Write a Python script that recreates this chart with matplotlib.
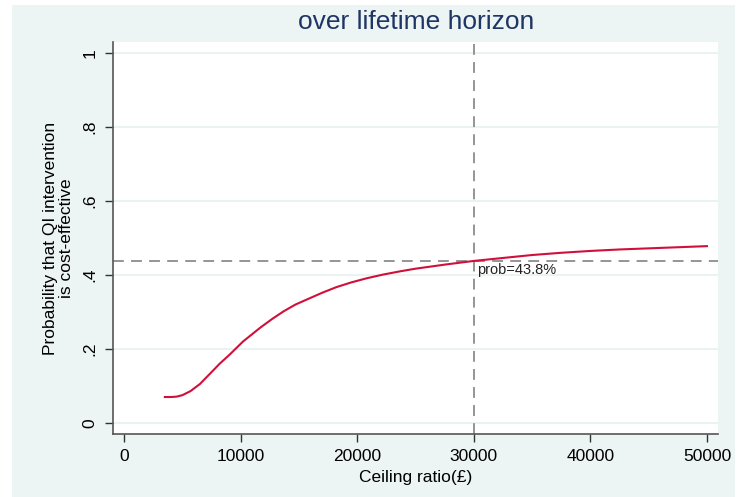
import matplotlib
matplotlib.use("Agg")
import matplotlib.pyplot as plt
from matplotlib.patches import Rectangle

plt.rcParams['font.family'] = ['Liberation Sans', 'DejaVu Sans']

# CEAC values
ceiling = [3500, 4000, 4500, 5000, 5700, 6500, 7400, 8200, 9100, 10200,
           11700, 12700, 13700, 14700, 15700, 17000, 18200, 19500, 20800,
           22200, 23700, 25000, 27500, 30000, 32500, 35000, 37500, 40000,
           42500, 45000, 47500, 50000]
prob = [0.070, 0.070, 0.071, 0.075, 0.086, 0.105, 0.134, 0.160, 0.186, 0.220,
        0.258, 0.281, 0.302, 0.320, 0.334, 0.352, 0.367, 0.380, 0.391,
        0.401, 0.410, 0.417, 0.428, 0.438, 0.446, 0.454, 0.460, 0.465,
        0.469, 0.472, 0.475, 0.478]
wtp = 30000
prob_at_wtp = 0.438
xticks = [0, 10000, 20000, 30000, 40000, 50000]
yticks = [0, 0.2, 0.4, 0.6, 0.8, 1.0]
ytick_labels = ['0', '.2', '.4', '.6', '.8', '1']

bg = '#edf4f4'
fig = plt.figure(figsize=(7.38, 4.97), dpi=100)
fig.patch.set_facecolor('white')
fig.patches.append(Rectangle((12 / 738, 0), 723 / 738, 492 / 497,
                             transform=fig.transFigure, facecolor=bg,
                             edgecolor='none', zorder=-10))

ax = fig.add_axes([113 / 738, 1 - 434 / 497, 605 / 738, 392 / 497])
ax.set_facecolor('white')

ax.plot(ceiling, prob, color='#d0103a', lw=1.5, zorder=3)
ax.axhline(prob_at_wtp, color='#8c8c8c', lw=1.3, ls=(0, (6, 4)), zorder=2)
ax.axvline(wtp, color='#8c8c8c', lw=1.3, ls=(0, (6, 4)), zorder=2)
ax.text(wtp + 250, prob_at_wtp - 0.005, 'prob=%.1f%%' % (prob_at_wtp * 100),
        fontsize=10.5, va='top', ha='left', color='#222222')

ax.set_xlim(-950, 50950)
ax.set_ylim(-0.03, 1.03)
ax.set_xticks(xticks)
ax.set_yticks(yticks)
ax.set_yticklabels(ytick_labels, rotation=90, va='center')
ax.grid(axis='y', color='#e8f0f0', lw=1.2)
ax.set_axisbelow(True)

for s in ['top', 'right']:
    ax.spines[s].set_visible(False)
for s in ['left', 'bottom']:
    ax.spines[s].set_color('#555555')
    ax.spines[s].set_linewidth(1.2)
ax.tick_params(direction='out', length=6, width=1, color='#333333',
               labelsize=12.5, pad=5)

ax.set_xlabel('Ceiling ratio(\u00a3)', fontsize=12.5, labelpad=4)
ax.set_ylabel('Probability that QI intervention\nis cost-effective',
              fontsize=12.5, labelpad=6, linespacing=1.15)
fig.text(416 / 738, 1 - 22 / 497, 'over lifetime horizon', fontsize=19,
         color='#1f3564', ha='center', va='center')

plt.savefig('out.png', dpi=100, facecolor=fig.get_facecolor())
